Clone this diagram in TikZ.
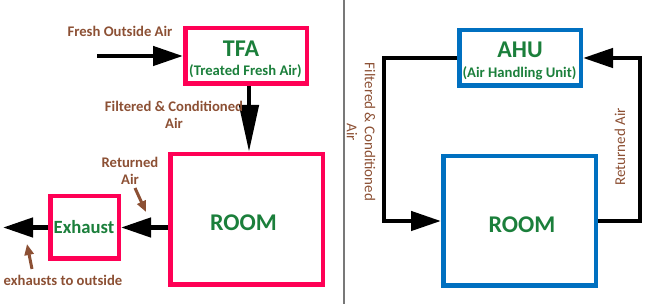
\documentclass[tikz,border=0pt]{standalone}
\usepackage{fontspec}
\setmainfont{Carlito}
\usetikzlibrary{arrows.meta}
\definecolor{boxpink}{RGB}{255,0,85}
\definecolor{boxblue}{RGB}{0,112,192}
\definecolor{txtgreen}{RGB}{27,127,59}
\definecolor{txtbrown}{RGB}{140,80,52}
\definecolor{divgray}{RGB}{120,120,120}
\tikzset{
  pinkbox/.style={draw=boxpink, line width=4.5pt, inner sep=0pt},
  bluebox/.style={draw=boxblue, line width=4.5pt, inner sep=0pt},
  bigtxt/.style={text=txtgreen, font=\bfseries\fontsize{24}{26}\selectfont, inner sep=0pt},
  midtxt/.style={text=txtgreen, font=\bfseries\fontsize{18.67}{20}\selectfont, inner sep=0pt},
  subtxt/.style={text=txtgreen, font=\bfseries\fontsize{14.67}{17}\selectfont, inner sep=0pt},
  lbl/.style={text=txtbrown, font=\bfseries\fontsize{14.67}{17}\selectfont, inner sep=0pt, align=center},
  rlbl/.style={text=txtbrown, font=\fontsize{15}{18}\selectfont, inner sep=0pt, align=center},
  flow/.style={line width=4.5pt, line join=miter, -{Triangle[length=30pt,width=19pt]}},
  flowlong/.style={line width=4.5pt, -{Triangle[length=47pt,width=19pt]}},
  pointer/.style={draw=txtbrown, line width=3pt, -{Triangle[length=11pt,width=9pt]}},
}
\begin{document}
\begin{tikzpicture}[x=1pt,y=-1pt]
\useasboundingbox (0,0) rectangle (654,304);
% divider
\draw[divgray, line width=1.5pt] (344,0) -- (344,304);

% ---------- left side ----------
\node[pinkbox, minimum width=121.5pt, minimum height=55.5pt] (TFA) at (246,56) {};
\node[bigtxt] (tfaT) at (241,49) {TFA};
\node[subtxt] (tfaS) at (245.5,71) {(Treated Fresh Air)};

\node[pinkbox, minimum width=152.5pt, minimum height=130.5pt] (ROOM) at (246.5,219.5) {};
\node[bigtxt] (roomT) at (243.5,223) {ROOM};

\node[pinkbox, minimum width=68.5pt, minimum height=62.5pt] (EXH) at (84.5,227.5) {};
\node[midtxt] (exhT) at (84,227) {Exhaust};

\coordinate (freshIn) at (97,56);
\coordinate (outside) at (3,227.5);

\draw[flow] (freshIn) -- (TFA.west);
\draw[flowlong] ([xshift=3pt]TFA.south) -- ([xshift=3pt]TFA.south |- ROOM.north);
\draw[flow] (ROOM.west |- EXH.east) -- (EXH.east);
\draw[flow] (EXH.west) -- (outside);

\node[lbl] (lFresh) at (120,31) {Fresh Outside Air};
\node[lbl] (lFilt) at (174,114.5) {Filtered \& Conditioned\\Air};
\node[lbl] (lRet) at (130,170.5) {Returned\\Air};
\node[lbl] (lOut) at (63,280) {exhausts to outside};

\coordinate (p1s) at (135,188);
\coordinate (p1e) at (146,212);
\coordinate (p2s) at (32,269);
\coordinate (p2e) at (27,244);
\draw[pointer] (p1s) -- (p1e);
\draw[pointer] (p2s) -- (p2e);

% ---------- right side ----------
\node[bluebox, minimum width=121.5pt, minimum height=55.5pt] (AHU) at (520,58) {};
\node[bigtxt] (ahuT) at (520,50) {AHU};
\node[subtxt] (ahuS) at (519.5,73) {(Air Handling Unit)};

\node[bluebox, minimum width=152.5pt, minimum height=129.5pt] (ROOM2) at (519.5,221) {};
\node[bigtxt] (room2T) at (522,225) {ROOM};

\coordinate (L) at (384,0);
\coordinate (R) at (640,0);

\draw[flow] (AHU.west) -- (AHU.west -| L) -- (ROOM2.west -| L) -- (ROOM2.west);
\draw[flow] (ROOM2.east) -- (ROOM2.east -| R) -- (AHU.east -| R) -- (AHU.east);

\node[rlbl, rotate=-90] (rFilt) at (361,132) {Filtered \& Conditioned\\Air};
\node[rlbl, rotate=90] (rRet) at (620,147) {Returned Air};
\end{tikzpicture}
\end{document}
